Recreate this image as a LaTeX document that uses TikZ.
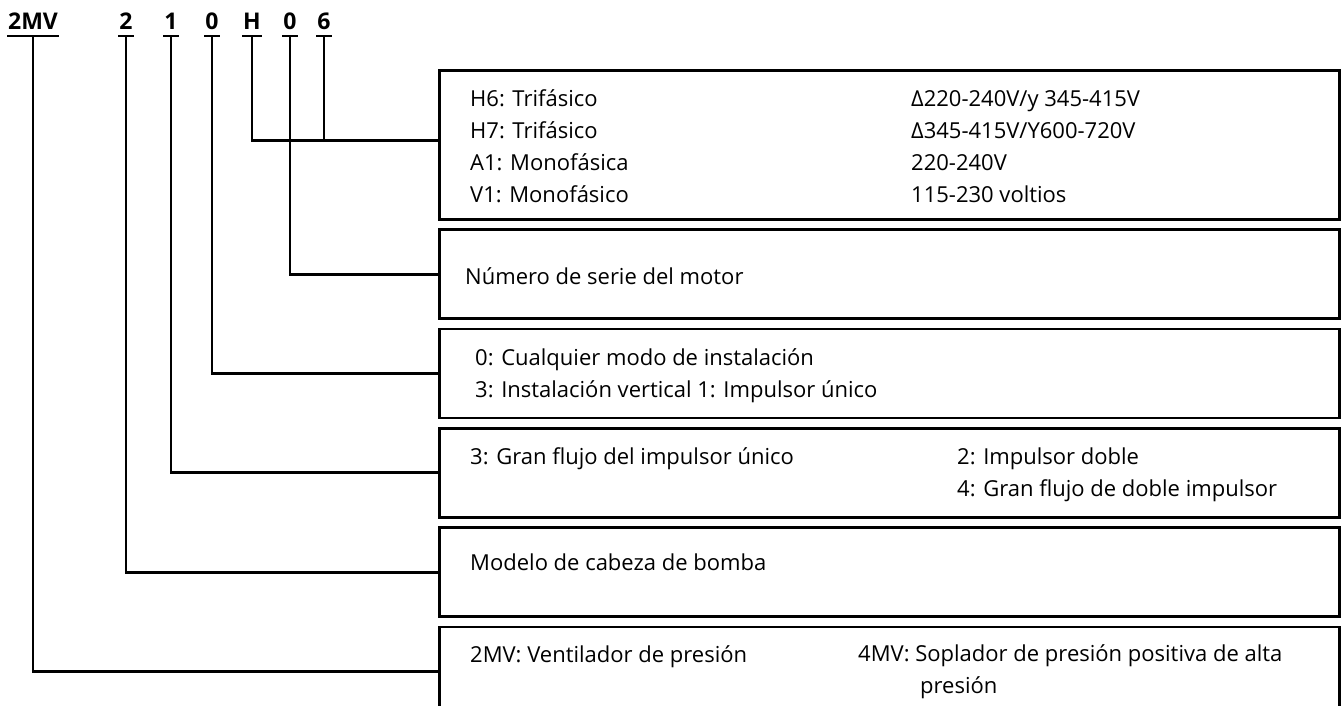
\documentclass[tikz,border=0pt]{standalone}
\usepackage{fontspec}
\setmainfont{Open Sans}
\usetikzlibrary{positioning,calc}

\tikzset{
  code/.style={font=\fontsize{23}{26}\selectfont\bfseries, anchor=base, inner xsep=1pt, inner ysep=6pt, text depth=0pt, outer sep=0pt},
  codebox/.style={draw, line width=2.8pt, minimum width=900pt, minimum height=89pt, inner sep=0pt},
  desc/.style={font=\fontsize{22}{32}\selectfont, align=left, anchor=base west, inner sep=0pt},
  wire/.style={line width=2.8pt},
}

\begin{document}
\begin{tikzpicture}[x=1pt,y=-1pt]
          \clip (0,0) rectangle (1343,706);
          \fill[white] (0,0) rectangle (1343,706);

          % code letters
          \node[code] (cseries) at (33,30) {2MV};
          \node[code] (chead) at (126,30) {2};
          \node[code] (cimpeller) at (171,30) {1};
          \node[code] (cinstall) at (212,30) {0};
          \node[code] (cphase) at (252,30) {H};
          \node[code] (cmotor) at (290,30) {0};
          \node[code] (cvolt) at (324,30) {6};

          \foreach \c in {cseries,chead,cimpeller,cinstall,cphase,cmotor,cvolt}
            \draw[wire] (\c.south west) -- (\c.south east);

          % boxes
          \node[codebox, anchor=north west, minimum height=149pt] (bphase) at (438,69) {};
          \node[codebox, below=7.5pt of bphase] (bmotor) {};
          \node[codebox, below=7.5pt of bmotor] (binstall) {};
          \node[codebox, below=7.5pt of binstall] (bimpeller) {};
          \node[codebox, below=7.5pt of bimpeller] (bhead) {};
          \node[codebox, below=7.5pt of bhead] (bseries) {};

          % texts (base = last line)
          \node[desc] (tphase) at (470,202) {H6: Trifásico\\H7: Trifásico\\A1: Monofásica\\V1: Monofásico};
          \node[desc] (tvolt) at (911,202) {Δ220-240V/y 345-415V\\Δ345-415V/Y600-720V\\220-240V\\115-230 voltios};
          \node[desc] (tmotor) at (465,284) {Número de serie del motor};
          \node[desc] (tinstall) at (475,397) {0: Cualquier modo de instalación\\3: Instalación vertical 1: Impulsor único};
          \node[desc] (timpeller) at (470,464) {3: Gran flujo del impulsor único};
          \node[desc] (timpeller2) at (957,496) {2: Impulsor doble\\4: Gran flujo de doble impulsor};
          \node[desc] (thead) at (470,570) {Modelo de cabeza de bomba};
          \node[desc] (tseries) at (470,662) {2MV: Ventilador de presión};
          \node[desc] (tseries2) at (858,693) {4MV: Soplador de presión positiva de alta\\\hspace*{62pt}presión};

          % edges
          \coordinate (jphase) at ([yshift=4.5pt]bphase.west);
          \draw[wire] (cphase.south) |- (jphase);
          \draw[wire] (cvolt.south) -- (cvolt.south |- jphase);
          \draw[wire] (cmotor.south) |- (bmotor.west);
          \draw[wire] (cinstall.south) |- (binstall.west);
          \draw[wire] (cimpeller.south) |- (bimpeller.west);
          \draw[wire] (chead.south) |- (bhead.west);
          \draw[wire] (cseries.south) |- (bseries.west);
\end{tikzpicture}
\end{document}
